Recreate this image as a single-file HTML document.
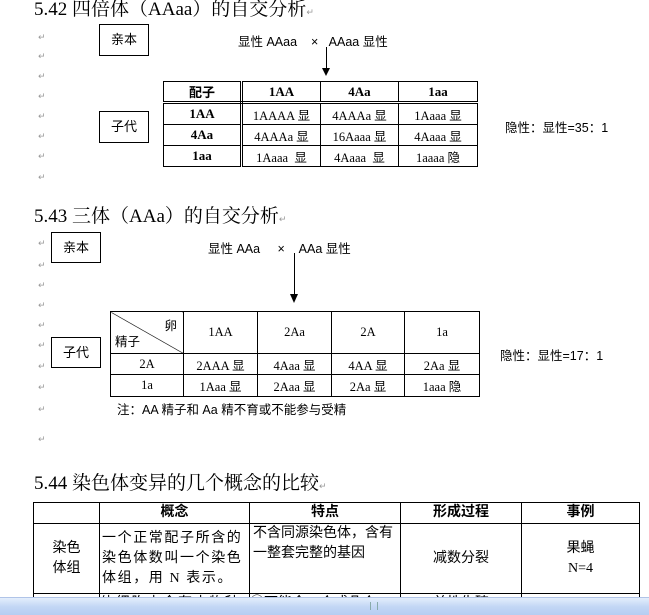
<!DOCTYPE html>
<html><head><meta charset="utf-8">
<style>
body{margin:0;width:649px;height:614px;overflow:hidden;background:#fff;position:relative;font-family:"Liberation Serif","Noto Serif CJK SC","Noto Sans CJK SC",serif;color:#000}
.a{position:absolute;white-space:nowrap}
.t{font-size:19px;font-family:"Liberation Serif","Noto Serif CJK SC",serif}
.s{font-size:12.5px;font-family:"Liberation Sans","Noto Sans CJK SC",sans-serif}
.r{font-size:9px;color:#999;font-family:"DejaVu Sans",sans-serif}
.box{position:absolute;border:1px solid #000;box-sizing:border-box;font-size:13px;font-family:"Liberation Sans","Noto Sans CJK SC",sans-serif;text-align:center}
table{position:absolute;border-collapse:collapse;table-layout:fixed}
td{border:1px solid #000;text-align:center;padding:0;font-size:12.5px;font-family:"Liberation Serif","Noto Sans CJK SC",serif;white-space:nowrap;overflow:hidden}
.t3 td{font-size:14px;font-family:"Liberation Serif","Noto Sans CJK SC",sans-serif;line-height:20px}
</style></head><body>
<div class="a t" style="left:34px;top:-6px">5.42 四倍体（AAaa）的自交分析<span class="r">↵</span></div>
<div class="box" style="left:99px;top:24px;width:50px;height:32px;line-height:30px">亲本</div>
<div class="a s" style="left:238px;top:31px">显性 AAaa &nbsp;&nbsp; × &nbsp;&nbsp;AAaa 显性</div>
<div class="a" style="left:326px;top:47px;width:1px;height:22px;background:#000"></div>
<div class="a" style="left:322px;top:68px;width:0;height:0;border-left:4px solid transparent;border-right:4px solid transparent;border-top:8px solid #000"></div>
<div class="box" style="left:99px;top:111px;width:50px;height:32px;line-height:30px">子代</div>
<table style="left:163px;top:81px;width:314px">
<colgroup><col style="width:78px"><col style="width:79px"><col style="width:78px"><col style="width:79px"></colgroup>
<tr style="height:21px;font-weight:bold"><td style="font-weight:bold;font-size:13px;border-right:3px double #000;border-bottom:3px double #000">配子</td><td style="font-weight:bold;font-size:13px;border-bottom:3px double #000">1AA</td><td style="font-weight:bold;font-size:13px;border-bottom:3px double #000">4Aa</td><td style="font-weight:bold;font-size:13px;border-bottom:3px double #000">1aa</td></tr>
<tr style="height:22px"><td style="font-weight:bold;font-size:13px;border-right:3px double #000">1AA</td><td>1AAAA 显</td><td>4AAAa 显</td><td>1Aaaa 显</td></tr>
<tr style="height:21px"><td style="font-weight:bold;font-size:13px;border-right:3px double #000">4Aa</td><td>4AAAa 显</td><td>16Aaaa 显</td><td>4Aaaa 显</td></tr>
<tr style="height:21px"><td style="font-weight:bold;font-size:13px;border-right:3px double #000">1aa</td><td>1Aaaa &nbsp;显</td><td>4Aaaa &nbsp;显</td><td>1aaaa 隐</td></tr>
</table>
<div class="a s" style="left:505px;top:117px">隐性：显性=35：1</div>

<div class="a t" style="left:34px;top:201px">5.43 三体（AAa）的自交分析<span class="r">↵</span></div>
<div class="box" style="left:51px;top:232px;width:50px;height:31px;line-height:29px">亲本</div>
<div class="a s" style="left:208px;top:238px">显性 AAa &nbsp;&nbsp;&nbsp; × &nbsp;&nbsp;&nbsp;AAa 显性</div>
<div class="a" style="left:294px;top:253px;width:1px;height:42px;background:#000"></div>
<div class="a" style="left:290px;top:294px;width:0;height:0;border-left:4px solid transparent;border-right:4px solid transparent;border-top:9px solid #000"></div>
<div class="box" style="left:51px;top:337px;width:50px;height:31px;line-height:29px">子代</div>
<table style="left:110px;top:311px;width:369px">
<colgroup><col style="width:73px"><col style="width:74px"><col style="width:74px"><col style="width:73px"><col style="width:75px"></colgroup>
<tr style="height:42px"><td style="position:relative;background:linear-gradient(to bottom left,transparent calc(50% - 0.6px),#000 50%,transparent calc(50% + 0.6px))"><span style="position:absolute;right:6px;top:3px">卵</span><span style="position:absolute;left:4px;bottom:3px">精子</span></td><td>1AA</td><td>2Aa</td><td>2A</td><td>1a</td></tr>
<tr style="height:21px"><td>2A</td><td>2AAA 显</td><td>4Aaa 显</td><td>4AA 显</td><td>2Aa 显</td></tr>
<tr style="height:22px"><td>1a</td><td>1Aaa 显</td><td>2Aaa 显</td><td>2Aa 显</td><td>1aaa 隐</td></tr>
</table>
<div class="a s" style="left:500px;top:345px">隐性：显性=17：1</div>
<div class="a s" style="left:117px;top:399px">注：AA 精子和 Aa 精不育或不能参与受精</div>

<div class="a r" style="left:38px;top:33px">↵</div><div class="a r" style="left:38px;top:52px">↵</div><div class="a r" style="left:38px;top:72px">↵</div><div class="a r" style="left:38px;top:92px">↵</div><div class="a r" style="left:38px;top:112px">↵</div><div class="a r" style="left:38px;top:132px">↵</div><div class="a r" style="left:38px;top:152px">↵</div><div class="a r" style="left:38px;top:173px">↵</div>
<div class="a r" style="left:38px;top:239px">↵</div><div class="a r" style="left:38px;top:261px">↵</div><div class="a r" style="left:38px;top:281px">↵</div><div class="a r" style="left:38px;top:301px">↵</div><div class="a r" style="left:38px;top:321px">↵</div><div class="a r" style="left:38px;top:341px">↵</div><div class="a r" style="left:38px;top:362px">↵</div><div class="a r" style="left:38px;top:383px">↵</div><div class="a r" style="left:38px;top:405px">↵</div><div class="a r" style="left:38px;top:435px">↵</div>

<div class="a t" style="left:34px;top:468px">5.44 染色体变异的几个概念的比较<span class="r">↵</span></div>
<table class="t3" style="left:33px;top:502px;width:606px">
<colgroup><col style="width:66px"><col style="width:150px"><col style="width:151px"><col style="width:121px"><col style="width:118px"></colgroup>
<tr style="height:21px"><td></td><td style="font-weight:bold">概念</td><td style="font-weight:bold">特点</td><td style="font-weight:bold">形成过程</td><td style="font-weight:bold">事例</td></tr>
<tr style="height:70px"><td>染色<br>体组</td><td style="text-align:left;white-space:normal;padding-left:2px;letter-spacing:1.6px">一个正常配子所含的染色体数叫一个染色体组，用 N 表示。</td><td style="text-align:left;white-space:normal;padding-left:3px;vertical-align:top">不含同源染色体，含有一整套完整的基因</td><td>减数分裂</td><td>果蝇<br>N=4</td></tr>
<tr style="height:20px"><td></td><td style="text-align:left;vertical-align:top;letter-spacing:1.6px">体细胞中含有本物种</td><td style="text-align:left;vertical-align:top">①可能含一个或几个</td><td style="vertical-align:top">单性生殖</td><td></td></tr>
</table>
<div class="a" style="left:0;top:597px;width:649px;height:17px;background:linear-gradient(#e4eefc,#c3d7f5 50%,#b5cdf2);border-top:1px solid #b0c4e8"></div>
<div class="a" style="left:370px;top:602px;width:6px;height:8px;border-left:1px solid #8aa;border-right:1px solid #8aa"></div>
</body></html>
